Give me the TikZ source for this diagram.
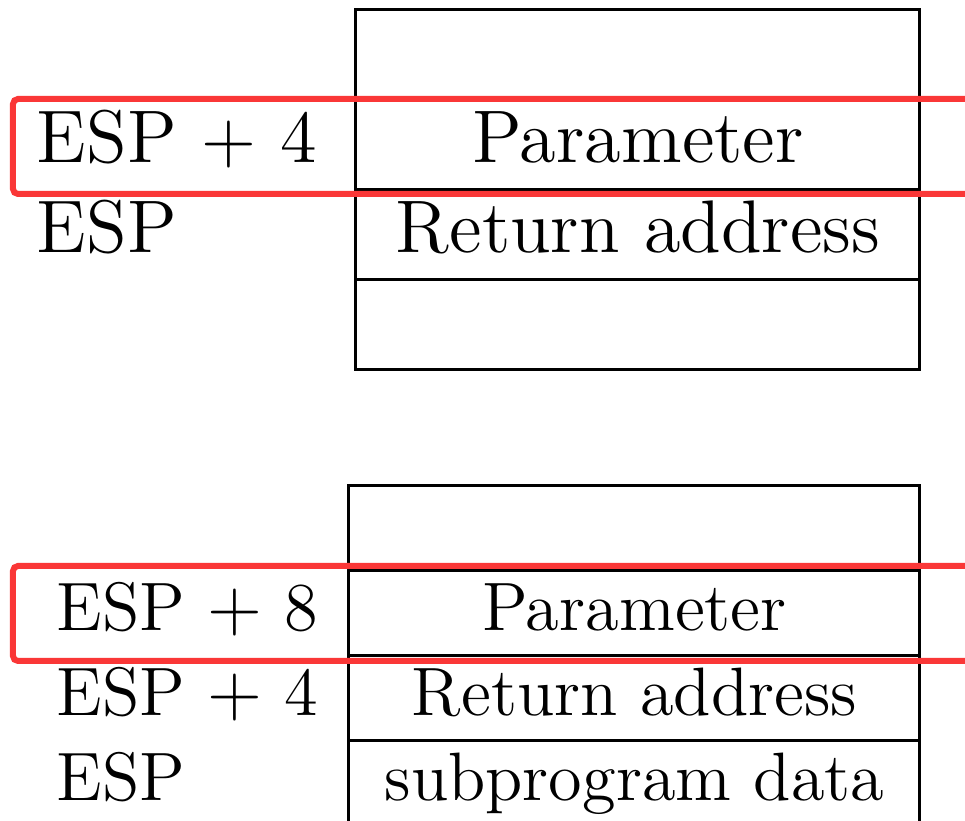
\documentclass[tikz,border=0pt]{standalone}
\usepackage{amsmath}
\usepackage{tikz}
\usepackage{xcolor}
\usetikzlibrary{positioning}
\definecolor{hlred}{RGB}{250,55,55}

\begin{document}
\begin{tikzpicture}[x=0.2pt, y=-0.2pt,
        every node/.style={text height=10pt, text depth=3pt, inner sep=0pt, outer sep=0pt},
        upper/.style={font=\fontsize{14.9}{17}\selectfont},
        lower/.style={font=\fontsize{13.7}{16}\selectfont},
        cell/.style={upper, draw=black, line width=0.6pt, minimum width=112.8pt, minimum height=18pt},
        lowcell/.style={lower, draw=black, line width=0.6pt, minimum width=114.2pt, minimum height=17pt},
        hlbox/.style={draw=hlred, line width=1.2pt, rounded corners=1pt}]
            \useasboundingbox (0,0) rectangle (965,821);

            % stack before the call
            \node[cell] (a0) at (638, 55) {};
            \node[cell, below=0pt of a0] (a1) {Parameter};
            \node[cell, below=0pt of a1] (a2) {Return address};
            \node[cell, below=0pt of a2] (a3) {};
            \node[upper, anchor=west] (ea1) at (37,0 |- a1) {ESP $+$ 4};
            \node[upper, anchor=west] (ea2) at (37,0 |- a2) {ESP};

            % stack inside the subprogram
            \node[lowcell] (b0) at (634.5, 528) {};
            \node[lowcell, below=0pt of b0] (b1) {Parameter};
            \node[lowcell, below=0pt of b1] (b2) {Return address};
            \node[lowcell, below=0pt of b2] (b3) {subprogram data};
            \node[lower, anchor=west] (eb1) at (57,0 |- b1) {ESP $+$ 8};
            \node[lower, anchor=west] (eb2) at (57,0 |- b2) {ESP $+$ 4};
            \node[lower, anchor=west] (eb3) at (57,0 |- b3) {ESP};

            \draw[hlbox] (13, 99) rectangle (990, 194);
            \draw[hlbox] (13, 566) rectangle (990, 661);
        \end{tikzpicture}
\end{document}
